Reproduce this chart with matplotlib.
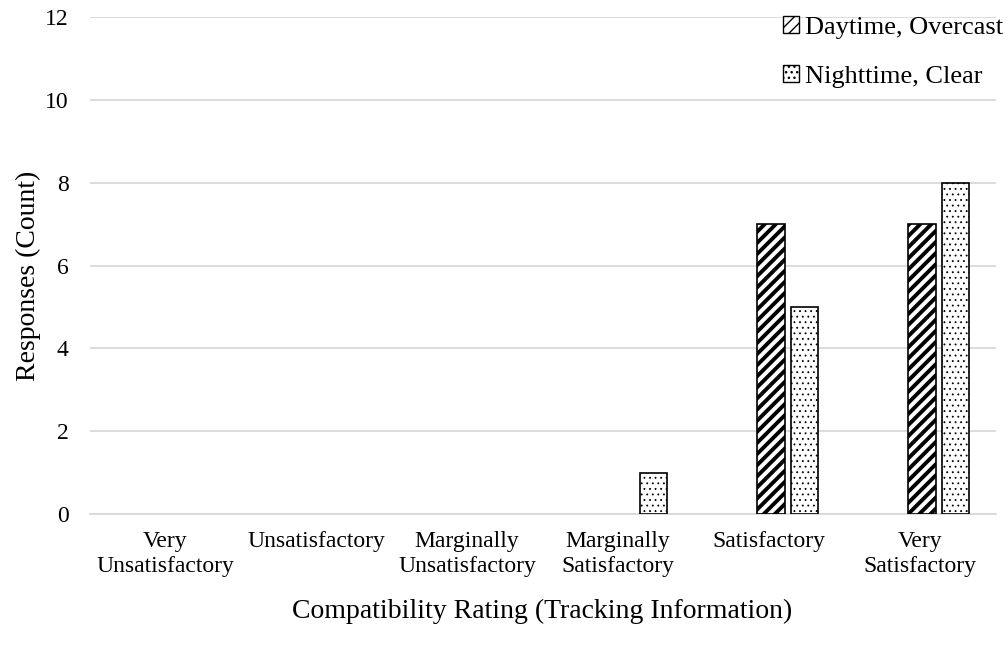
import numpy as np
import matplotlib.pyplot as plt
from matplotlib.patches import Patch

plt.rcParams['font.family'] = ['Liberation Serif', 'DejaVu Serif']

categories = ['Very\nUnsatisfactory', 'Unsatisfactory', 'Marginally\nUnsatisfactory',
              'Marginally\nSatisfactory', 'Satisfactory', 'Very\nSatisfactory']
daytime = [0, 0, 0, 0, 7, 7]
nighttime = [0, 0, 0, 1, 5, 8]

fig = plt.figure(figsize=(10.08, 6.54), dpi=100)
# plot area: x 89.5..995.5 px, y 17..514 px
ax = fig.add_axes([89.5 / 1008, 140 / 654, 906 / 1008, 497 / 654])

x = np.arange(len(categories))
w = 0.18

b1 = ax.bar(x + 0.013, daytime, w, color='white', edgecolor='black', linewidth=1.2,
            hatch='///', zorder=3)
b2 = ax.bar(x + 0.235, nighttime, w, color='white', edgecolor='black', linewidth=1.2,
            hatch='...', zorder=3)
for p in b1:
    p.set_hatch_linewidth(2.8)
for p in b2:
    p.set_hatch_linewidth(0.6)
# empty categories draw nothing
for p in list(b1) + list(b2):
    if p.get_height() == 0:
        p.set_visible(False)

ax.set_xlim(-0.5, len(categories) - 0.5)
ax.set_ylim(0, 12)
ax.set_yticks(range(0, 13, 2))
ax.set_xticks(x)
ax.set_xticklabels(categories, fontsize=17, linespacing=1.25)
ax.tick_params(axis='y', labelsize=17, length=0, pad=15)
ax.tick_params(axis='x', length=0, pad=12)
ax.grid(axis='y', color='#d9d9d9', linewidth=1.3, zorder=0)
for s in ['top', 'right', 'left']:
    ax.spines[s].set_visible(False)
ax.spines['bottom'].set_color('#d9d9d9')
ax.spines['bottom'].set_linewidth(1.3)

ax.set_ylabel('Responses (Count)', fontsize=20)
ax.yaxis.set_label_coords(-0.054, 0.479)
ax.set_xlabel('Compatibility Rating (Tracking Information)', fontsize=20, labelpad=16)

h1 = Patch(facecolor='white', edgecolor='black', hatch='///', linewidth=1.0)
h2 = Patch(facecolor='white', edgecolor='black', hatch='...', linewidth=1.0)
h1.set_hatch_linewidth(2.0)
h2.set_hatch_linewidth(0.6)
ax.legend([h1, h2], ['Daytime, Overcast', 'Nighttime, Clear'],
          loc='upper right', bbox_to_anchor=(1.0, 1 - 11 / 654), bbox_transform=fig.transFigure,
          frameon=False, fontsize=19, handlelength=0.6, handleheight=0.6,
          handletextpad=0.2, labelspacing=1.0, borderpad=0.1, borderaxespad=0.1)

fig.savefig('out.png', dpi=100)
